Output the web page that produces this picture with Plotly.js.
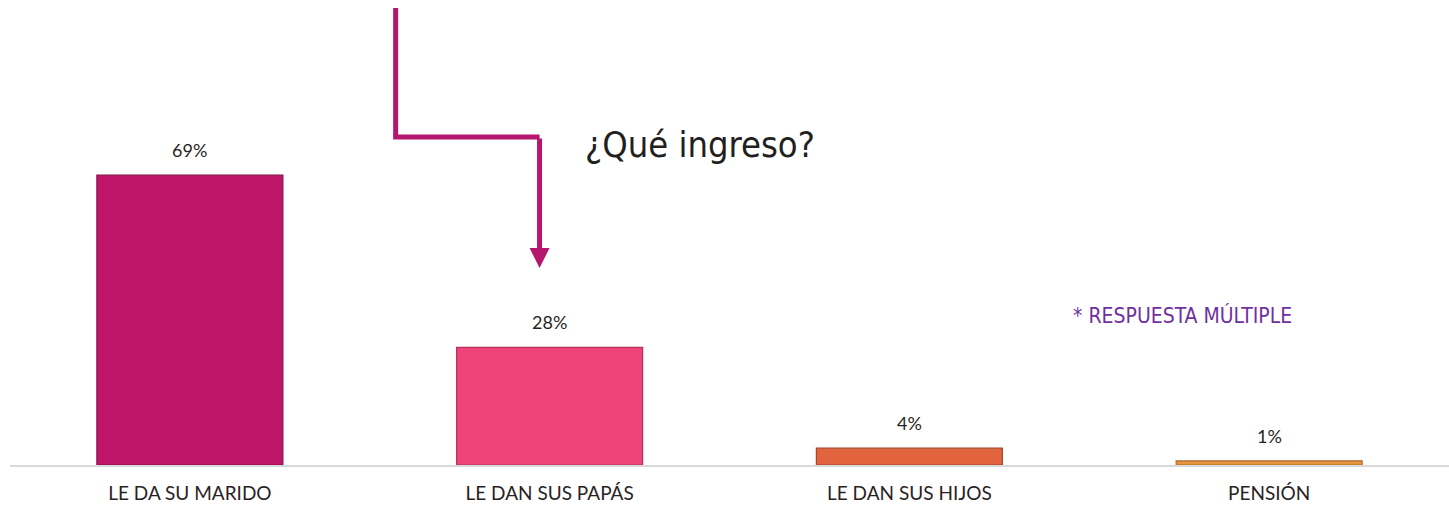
<!DOCTYPE html>
<html><head><meta charset="utf-8">
<script src="https://cdn.plot.ly/plotly-3.0.1.min.js"></script>
<style>html,body{margin:0;padding:0;background:#fff}#chart{width:1449px;height:505px}</style>
</head><body><div id="chart"></div>
<script>
const categories = ["LE DA SU MARIDO", "LE DAN SUS PAPÁS", "LE DAN SUS HIJOS", "PENSIÓN"];
const values = [69, 28, 4, 1];
const labels = ["69%", "28%", "4%", "1%"];
const barColors = ["#BE1569", "#EE4479", "#E2643F", "#E8933E"];
const lineColors = ["#8A0E4C", "#B8305A", "#A5452B", "#B06E2C"];

const fontMain = "Lato, 'Open Sans', sans-serif";
const fontCond = "'DejaVu Sans Condensed', 'Liberation Sans Narrow', sans-serif";

const trace = {
  type: "bar",
  x: categories,
  y: values,
  marker: {color: barColors, line: {color: lineColors, width: 1.2}},
  width: 0.517,
  hoverinfo: "none"
};

const valueLabels = categories.map((c, i) => ({
  x: c, y: values[i], xref: "x", yref: "y",
  text: labels[i], showarrow: false, yanchor: "bottom", yshift: 12,
  font: {family: fontMain, size: 18, color: "#2A1F24"}
}));

const arrowColor = "#B5176E";
const layout = {
  width: 1449, height: 505,
  margin: {l: 10, r: 0, t: 0, b: 40},
  paper_bgcolor: "#fff", plot_bgcolor: "#fff",
  showlegend: false,
  xaxis: {
    showgrid: false, zeroline: false,
    showline: true, linecolor: "#D9D9D9", linewidth: 2,
    ticks: "", ticklabelstandoff: 10,
    tickfont: {family: fontMain, size: 19, color: "#2A1F24"},
    fixedrange: true
  },
  yaxis: {
    range: [0, 110.7], visible: false, showgrid: false, zeroline: false, fixedrange: true
  },
  shapes: [
    {type: "path", xref: "paper", yref: "paper",
     path: "M 0.268 0.983 L 0.268 0.7054 L 0.368 0.7054",
     line: {color: arrowColor, width: 5}, layer: "above"}
  ],
  annotations: valueLabels.concat([
    {xref: "paper", yref: "paper", x: 0.368, y: 0.4237, ax: 0.368, ay: 0.7054,
     axref: "paper", ayref: "paper",
     showarrow: true, arrowhead: 2, arrowsize: 0.8, arrowwidth: 5, arrowcolor: arrowColor,
     text: "", standoff: 0, startstandoff: 0},
    {xref: "paper", yref: "paper", x: 0.398, y: 0.69, xanchor: "left", yanchor: "middle",
     text: "¿Qué ingreso?", showarrow: false,
     font: {family: fontCond, size: 36, color: "#231F20"}},
    {xref: "paper", yref: "paper", x: 0.737, y: 0.322, xanchor: "left", yanchor: "middle",
     text: "* RESPUESTA MÚLTIPLE", showarrow: false,
     font: {family: fontCond, size: 21, color: "#7030A0"}}
  ])
};

Plotly.newPlot("chart", [trace], layout, {displayModeBar: false, staticPlot: true});
</script></body></html>
